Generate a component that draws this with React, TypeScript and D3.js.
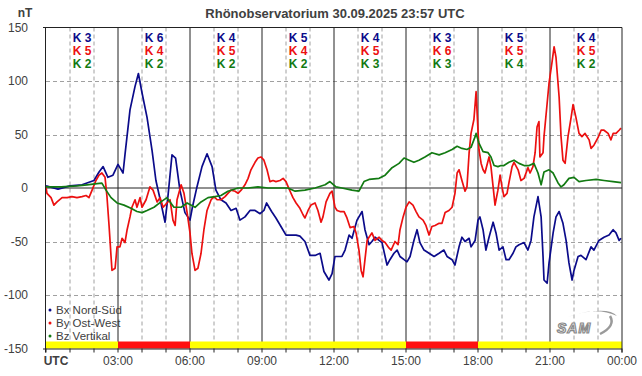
import React from "react";
import * as d3 from "d3";

// ---- data ----
const title = "Rhönobservatorium 30.09.2025 23:57 UTC";
const xTickLabels = ["03:00", "06:00", "09:00", "12:00", "15:00", "18:00", "21:00", "00:00"];
const yTicks = [150, 100, 50, 0, -50, 100 * -1, -150];
const kBx = [3, 6, 4, 5, 4, 3, 5, 4];
const kBy = [5, 4, 5, 4, 5, 6, 5, 5];
const kBz = [2, 2, 2, 2, 3, 3, 4, 2];
const seriesNames = ["Bx Nord-Süd", "By Ost-West", "Bz Vertikal"];

const bxT = [0, 0.5, 1, 1.5, 2, 2.21, 2.38, 2.58, 2.79, 3, 3.08, 3.21, 3.29, 3.5, 3.71, 3.85, 4, 4.21, 4.42, 4.58, 4.79, 4.96, 5.08, 5.25, 5.4, 5.58, 5.79, 6, 6.1, 6.29, 6.5, 6.71, 6.92, 7.08, 7.29, 7.5, 7.71, 7.92, 8.08, 8.29, 8.5, 8.71, 8.92, 9.08, 9.19, 9.4, 9.58, 9.79, 10, 10.21, 10.42, 10.58, 10.79, 11, 11.21, 11.42, 11.58, 11.79, 11.92, 12.04, 12.33, 12.46, 12.63, 12.75, 12.96, 13.17, 13.29, 13.46, 13.58, 13.71, 13.88, 14, 14.13, 14.21, 14.33, 14.5, 14.63, 14.75, 14.92, 15.04, 15.17, 15.33, 15.46, 15.58, 15.75, 15.96, 16.17, 16.38, 16.58, 16.71, 16.92, 17.04, 17.21, 17.33, 17.46, 17.63, 17.71, 17.88, 18, 18.08, 18.21, 18.33, 18.46, 18.63, 18.75, 18.88, 19.04, 19.17, 19.29, 19.46, 19.58, 19.71, 19.92, 20.08, 20.21, 20.33, 20.5, 20.63, 20.71, 20.75, 20.88, 20.96, 21.13, 21.25, 21.38, 21.54, 21.67, 21.79, 21.92, 22, 22.17, 22.29, 22.5, 22.71, 22.83, 23.04, 23.25, 23.46, 23.63, 23.75, 23.88, 23.96];
const bxV = [2, -1, 2, 3, 7, 15, 20, 10, 12, 22, 19, 14, 31, 73, 95, 107, 89, 66, 35, 7, -14, -32, -8, 31, 28, -2, -23, -30, -18, 1, 20, 32, 20, -2, -11, -14, -21, -19, -30, -27, -21, -21, -24, -21, -14, -22, -28, -36, -44, -44, -44, -45, -50, -63, -63, -61, -78, -86, -80, -64, -64, -58, -44, -47, -30, -22, -39, -53, -50, -46, -49, -51, -64, -72, -67, -61, -58, -64, -67, -69, -64, -49, -39, -51, -58, -61, -64, -61, -58, -64, -67, -72, -55, -46, -50, -47, -55, -49, -30, -27, -39, -58, -46, -32, -42, -58, -55, -67, -67, -61, -55, -53, -51, -58, -49, -27, -8, -27, -64, -86, -89, -70, -42, -27, -22, -33, -49, -70, -86, -77, -64, -63, -67, -55, -58, -49, -46, -44, -39, -42, -49, -47];

const byT = [0, 0.04, 0.21, 0.33, 0.46, 0.67, 0.88, 1.08, 1.29, 1.5, 1.67, 1.79, 1.92, 2.08, 2.21, 2.33, 2.46, 2.54, 2.63, 2.71, 2.75, 2.88, 2.96, 3.08, 3.17, 3.29, 3.38, 3.5, 3.58, 3.71, 3.79, 3.92, 4, 4.17, 4.33, 4.46, 4.63, 4.75, 4.88, 5.04, 5.17, 5.29, 5.38, 5.46, 5.63, 5.75, 5.88, 6, 6.08, 6.21, 6.33, 6.46, 6.58, 6.71, 6.88, 7, 7.13, 7.29, 7.46, 7.58, 7.71, 7.88, 8, 8.13, 8.29, 8.42, 8.54, 8.71, 8.83, 8.96, 9.08, 9.21, 9.33, 9.46, 9.58, 9.75, 9.88, 10, 10.17, 10.29, 10.42, 10.58, 10.71, 10.79, 10.92, 11.04, 11.21, 11.33, 11.46, 11.54, 11.67, 11.83, 11.92, 12.04, 12.13, 12.25, 12.42, 12.54, 12.67, 12.83, 12.92, 13.04, 13.13, 13.21, 13.29, 13.38, 13.46, 13.58, 13.71, 13.88, 14, 14.13, 14.29, 14.38, 14.54, 14.67, 14.75, 14.88, 15, 15.13, 15.29, 15.42, 15.54, 15.71, 15.83, 15.96, 16.08, 16.21, 16.38, 16.5, 16.63, 16.79, 16.92, 17.04, 17.13, 17.21, 17.33, 17.46, 17.54, 17.63, 17.71, 17.83, 17.92, 18, 18.04, 18.13, 18.21, 18.29, 18.46, 18.54, 18.63, 18.71, 18.83, 18.92, 19, 19.08, 19.21, 19.29, 19.42, 19.5, 19.67, 19.79, 19.92, 20.08, 20.17, 20.29, 20.38, 20.46, 20.54, 20.58, 20.71, 20.75, 20.88, 20.96, 21.08, 21.17, 21.25, 21.38, 21.46, 21.54, 21.63, 21.75, 21.88, 21.96, 22.08, 22.21, 22.33, 22.46, 22.63, 22.71, 22.83, 23, 23.13, 23.25, 23.42, 23.54, 23.63, 23.75, 23.88, 23.96];
const byV = [1, -5, -9, -16, -13, -9, -9, -8, -9, -8, -7, -9, -2, 7, 12, 14, 10, -8, -36, -64, -77, -75, -55, -55, -47, -51, -39, -27, -18, -11, -18, -9, -18, -11, 1, -2, -13, -9, -18, -14, -11, -30, -35, -11, 3, -5, -23, -42, -61, -77, -75, -61, -39, -21, -11, -8, -11, -11, -8, -5, -2, -3, -5, -2, 3, 9, 17, 24, 28, 29, 26, 17, 6, 7, 6, 7, 9, 6, -3, -9, -14, -19, -25, -28, -21, -16, -14, -21, -32, -27, -13, -5, -3, -18, -21, -22, -22, -28, -37, -36, -42, -58, -77, -83, -67, -49, -46, -42, -49, -46, -49, -51, -56, -58, -50, -53, -39, -27, -18, -13, -16, -22, -27, -30, -35, -44, -36, -35, -33, -33, -23, -21, -18, -5, 14, 17, 7, -3, 1, 33, 51, 64, 90, 54, 36, 23, 17, 14, 29, 20, 1, -16, -2, 12, 1, -8, -5, 5, 20, 24, 17, 7, 9, 19, 14, 20, 33, 57, 62, 29, 33, 48, 79, 98, 117, 132, 122, 85, 48, 26, 23, 48, 66, 78, 66, 51, 48, 51, 45, 37, 40, 47, 54, 54, 51, 45, 51, 51, 54, 56];

const bzT = [0, 0.63, 1.29, 1.71, 2.13, 2.33, 2.5, 2.71, 2.96, 3.25, 3.54, 3.79, 4, 4.21, 4.5, 4.79, 5.04, 5.33, 5.63, 5.88, 6.21, 6.46, 6.75, 7.04, 7.29, 7.58, 8, 8.42, 8.83, 9.25, 9.67, 10.08, 10.38, 10.79, 11.21, 11.63, 11.83, 12.08, 12.33, 12.75, 13.04, 13.25, 13.46, 13.88, 14.13, 14.42, 14.71, 14.92, 15.13, 15.33, 15.54, 15.79, 16.08, 16.38, 16.63, 16.92, 17.13, 17.33, 17.54, 17.71, 17.88, 17.92, 18.04, 18.21, 18.42, 18.54, 18.67, 18.83, 18.96, 19.08, 19.29, 19.5, 19.71, 19.92, 20.13, 20.33, 20.5, 20.63, 20.75, 20.96, 21.13, 21.33, 21.46, 21.58, 21.79, 22, 22.21, 22.5, 22.92, 23.25, 23.63, 23.96];
const bzV = [1, 1, 2, 3, 4, 4.5, -2, -9, -14, -16, -19, -22, -23, -21, -18, -13, -9, -18, -18, -14, -18, -13, -9, -8, -7, -3, 0, 0, 1, 0, 0, 0, -3, -2, 0, 3, 6, 1, 0, -2, -3, 6, 8, 9, 12, 19, 23, 28, 26, 24, 26, 29, 33, 31, 33, 36, 39, 37, 36, 38, 48, 51, 42, 34, 33, 29, 21, 20, 21, 21, 24, 26, 23, 21, 21, 23, 14, 3, 15, 17, 14, 5, 1, 3, 9, 10, 6, 7, 8, 7, 6, 5];

const W = 642, H = 376;
const L = 46, R = 622, T = 27.5, B = 348.5;

export default function App() {
  const x = d3.scaleLinear().domain([0, 24]).range([L, R]);
  const y = d3.scaleLinear().domain([-150, 150]).range([B, T]);
  const line = d3.line<[number, number]>().x(d => x(d[0])).y(d => y(d[1]));
  const series = [
    { t: bxT, v: bxV, color: "#0b0b8a" },
    { t: byT, v: byV, color: "#ec1010" },
    { t: bzT, v: bzV, color: "#127a12" },
  ];
  const kColors = ["#0b0b8a", "#ec1010", "#127a12"];
  const ks = [kBx, kBy, kBz];
  const hours = d3.range(1, 24);
  const font = "Arial, 'Liberation Sans', sans-serif";
  return (
    <svg width={W} height={H} style={{ position: "fixed", left: 0, top: 0, background: "#fff" }} fontFamily={font}>
      <defs>
        <clipPath id="plot"><rect x={L} y={T} width={R - L} height={B - T} /></clipPath>
      </defs>
      {/* title */}
      <text x={335} y={18} textAnchor="middle" fontSize={13} fontWeight="bold" fill="#404040">{title}</text>
      <text x={25} y={17} textAnchor="middle" fontSize={12} fontWeight="bold" fill="#404040">nT</text>
      {/* hourly dashed grid */}
      {hours.filter(h => h % 3 !== 0).map(h => (
        <line key={"h" + h} x1={x(h)} x2={x(h)} y1={T} y2={B} stroke="#a0a0a0" strokeDasharray="4,3" />
      ))}
      {[100, 50, -50, -100].map(v => (
        <line key={"g" + v} x1={L} x2={R} y1={Math.round(y(v)) + 0.5} y2={Math.round(y(v)) + 0.5} stroke="#a0a0a0" strokeDasharray="4,3" />
      ))}
      {/* 3h solid lines */}
      {[3, 6, 9, 12, 15, 18, 21].map(h => (
        <line key={"m" + h} x1={x(h)} x2={x(h)} y1={T} y2={B} stroke="#222" />
      ))}
      <line x1={L} x2={R} y1={y(0)} y2={y(0)} stroke="#222" />
      {/* bottom K bar */}
      {kBx.map((_, i) => {
        const kmax = Math.max(kBx[i], kBy[i], kBz[i]);
        return <rect key={"bar" + i} x={x(i * 3)} y={341.5} width={x(3) - x(0)} height={7} fill={kmax >= 6 ? "#ff1010" : "#ffff00"} />;
      })}
      {/* K labels */}
      {kBx.map((_, i) => (
        <g key={"k" + i}>
          {ks.map((arr, j) => (
            <text key={j} x={x(i * 3 + 1.5)} y={42 + j * 13} textAnchor="middle" fontSize={12} fontWeight="bold" fill={kColors[j]}>{"K " + arr[i]}</text>
          ))}
        </g>
      ))}
      {/* lines */}
      <g clipPath="url(#plot)">
        {series.map((s, i) => (
          <path key={"s" + i} d={line(s.t.map((t, k) => [t, s.v[k]]) as [number, number][]) || ""} fill="none" stroke={s.color} strokeWidth={1.7} strokeLinejoin="round" />
        ))}
      </g>
      {/* frame */}
      <line x1={L - 3} x2={R} y1={T} y2={T} stroke="#222" />
      <line x1={L - 0.5} x2={L - 0.5} y1={T} y2={B + 4} stroke="#222" />
      <line x1={R} x2={R} y1={T} y2={B + 4} stroke="#222" />
      <line x1={L - 3} x2={R} y1={B + 0.5} y2={B + 0.5} stroke="#222" />
      {/* bottom ticks */}
      {d3.range(0, 25).map(h => (
        <line key={"t" + h} x1={x(h)} x2={x(h)} y1={B} y2={B + 4} stroke="#222" />
      ))}
      {/* y labels */}
      {yTicks.map(v => (
        <text key={"y" + v} x={28} y={y(v) + 4} textAnchor="end" fontSize={12} fill="#404040">{v}</text>
      ))}
      {/* x labels */}
      <text x={56} y={365} textAnchor="middle" fontSize={12} fontWeight="bold" fill="#404040">UTC</text>
      {xTickLabels.map((lab, i) => (
        <text key={"x" + i} x={x((i + 1) * 3)} y={365} textAnchor="middle" fontSize={12} fill="#404040">{lab}</text>
      ))}
      {/* legend */}
      {seriesNames.map((n, i) => (
        <g key={"lg" + i}>
          <circle cx={50} cy={310 + i * 13} r={1.5} fill={kColors[i]} />
          <text x={56} y={314 + i * 13} fontSize={11.5} fill="#404040">{n}</text>
        </g>
      ))}
      {/* SAM logo */}
      <g>
        <path d="M568,317 Q596,306 617,316 Q612,310 596,311 Q580,312 568,317 Z" fill="#9a9a9a" />
        <path d="M610,316 Q616,326 600,334" fill="none" stroke="#9a9a9a" strokeWidth={2.5} />
        <text x={557} y={333} fontSize={14} fontStyle="italic" fontWeight="bold" fill="#fff" stroke="#8a8a8a" strokeWidth={1.2} letterSpacing={1}>SAM</text>
      </g>
    </svg>
  );
}
